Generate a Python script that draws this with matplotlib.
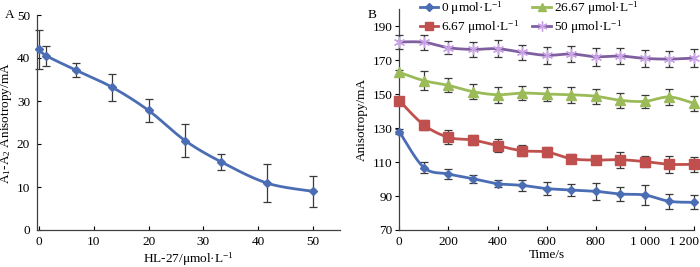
import numpy as np
import matplotlib
matplotlib.use("Agg")
import matplotlib.pyplot as plt
from matplotlib.lines import Line2D
from matplotlib.transforms import ScaledTranslation

plt.rcParams['font.family'] = ['Liberation Serif', 'DejaVu Serif']
plt.rcParams['mathtext.fontset'] = 'custom'
plt.rcParams['mathtext.rm'] = 'Liberation Serif'
plt.rcParams['mathtext.it'] = 'Liberation Serif:italic'
plt.rcParams['font.size'] = 9.5

FS = 9.5

# ---- Panel A data ----
conc_a = [0, 1.33, 6.67, 13.33, 20, 26.67, 33.33, 41.67, 50]
aniso_diff = [42.0, 40.5, 37.2, 33.2, 27.8, 20.8, 15.8, 10.9, 9.0]
aniso_diff_err = [4.6, 2.4, 1.7, 3.1, 2.6, 3.8, 1.9, 4.4, 3.6]

# ---- Panel B data ----
time_s = [0, 100, 200, 300, 400, 500, 600, 700, 800, 900, 1000, 1100, 1200]
time_ticks = [0, 200, 400, 600, 800, 1000, 1200]
time_ticklabels = ['0', '200', '400', '600', '800', '1 000', '1 200']
labels_b = [r'0 μmol·L$^{-1}$', r'6.67 μmol·L$^{-1}$',
            r'26.67 μmol·L$^{-1}$', r'50 μmol·L$^{-1}$']
c0 = [127.9, 106.8, 103.0, 100.2, 97.3, 96.3, 94.4, 93.6, 92.8, 91.2, 90.6, 86.9, 86.3]
c0_err = [1.5, 3.0, 3.1, 2.4, 2.2, 3.3, 3.8, 3.6, 5.1, 4.3, 6.1, 4.3, 4.1]
c667 = [146.2, 131.9, 124.6, 123.0, 119.7, 116.7, 116.0, 112.0, 111.2, 111.4, 110.3, 108.7, 108.7]
c667_err = [1.5, 2.7, 4.1, 3.2, 3.8, 3.2, 2.9, 2.7, 1.5, 4.6, 3.2, 5.1, 4.5]
c2667 = [162.9, 158.0, 155.2, 151.5, 149.7, 150.7, 150.1, 149.7, 148.8, 146.4, 145.8, 148.4, 144.6]
c2667_err = [1.5, 5.4, 4.1, 4.6, 4.7, 4.3, 4.3, 4.6, 4.3, 4.6, 3.9, 4.5, 4.6]
c50 = [180.8, 180.6, 177.4, 176.4, 176.8, 174.7, 172.9, 173.7, 172.1, 172.5, 171.1, 170.7, 171.3]
c50_err = [4.0, 4.3, 3.8, 4.4, 5.1, 4.4, 4.9, 4.9, 5.2, 4.9, 5.1, 4.7, 5.3]


def smooth(x, y, n=25):
    pts = np.column_stack([np.asarray(x, float), np.asarray(y, float)])
    out = []
    m = len(pts)
    t = np.linspace(0, 1, n)[:, None]
    for i in range(m - 1):
        p0 = pts[i - 1] if i > 0 else pts[i]
        p1 = pts[i]
        p2 = pts[i + 1]
        p3 = pts[i + 2] if i + 2 < m else pts[i + 1]
        b1 = p1 + (p2 - p0) / 6.0
        b2 = p2 - (p3 - p1) / 6.0
        seg = ((1 - t) ** 3) * p1 + 3 * ((1 - t) ** 2) * t * b1 + 3 * (1 - t) * t ** 2 * b2 + t ** 3 * p2
        out.append(seg if i == 0 else seg[1:])
    s = np.vstack(out)
    return s[:, 0], s[:, 1]


fig = plt.figure(figsize=(7.0, 2.67), dpi=100)
W, H = 700, 267

def ax_rect(l, r, t, b):
    return [l / W, (H - b) / H, (r - l) / W, (b - t) / H]

errc = '#3a3a3a'

# ---- Panel A ----
axA = fig.add_axes(ax_rect(37, 340, 15, 230))
xs, ys = smooth(conc_a, aniso_diff)
axA.errorbar(conc_a, aniso_diff, yerr=aniso_diff_err, fmt='none', ecolor=errc,
             elinewidth=0.9, capsize=3, capthick=0.9, zorder=2, clip_on=False)
axA.plot(xs, ys, color='#4a6db4', lw=2.0, zorder=3, clip_on=False)
axA.plot(conc_a, aniso_diff, ls='none', marker='D', ms=4, color='#4a6db4', zorder=4, clip_on=False)
axA.set_xlim(-0.4, 55)
axA.set_ylim(0, 50)
axA.set_xticks([0, 10, 20, 30, 40, 50])
axA.set_yticks([0, 10, 20, 30, 40, 50])
axA.tick_params(axis='x', direction='in', length=3, pad=4, labelsize=FS)
axA.tick_params(axis='y', direction='in', length=3, pad=5, labelsize=FS)
for s in ['top', 'right']:
    axA.spines[s].set_visible(False)
for s in ['left', 'bottom']:
    axA.spines[s].set_color('#404040')
    axA.spines[s].set_linewidth(0.9)
axA.set_xlabel(r'HL-27/μmol·L$^{-1}$', fontsize=FS, labelpad=2)
axA.set_ylabel(r'A$_1$-A$_2$ Anisotropy/mA', fontsize=FS, labelpad=2)
fig.text(5 / W, 1 - 15 / H, 'A', fontsize=FS, va='center', ha='left')

# ---- Panel B ----
axB = fig.add_axes(ax_rect(399.3, 694, 9.35, 230))
series = [
    (c0, c0_err, '#4a6db4', '#4a6db4', 'D', 4.5),
    (c667, c667_err, '#c0504d', '#c0504d', 's', 6.5),
    (c2667, c2667_err, '#9bbb59', '#9bbb59', '^', 6.5),
    (c50, c50_err, '#7f5fa0', '#c9a3e6', (6, 2, 0), 8),
]
handles = []
for (yv, ye, lc, mc, mk, ms), lab in zip(series, labels_b):
    axB.errorbar(time_s, yv, yerr=ye, fmt='none', ecolor=errc, elinewidth=0.9,
                 capsize=3, capthick=0.9, zorder=2, clip_on=False)
    sx, sy = smooth(time_s, yv)
    axB.plot(sx, sy, color=lc, lw=2.0, zorder=3, clip_on=False)
    axB.plot(time_s, yv, ls='none', marker=mk, ms=ms, color=mc, mec=mc, mew=1.0,
             zorder=4, clip_on=False)
    handles.append(Line2D([], [], color=lc, lw=2.0, marker=mk, ms=ms * 0.9, mfc=mc, mec=mc, mew=1.0))
axB.set_xlim(0, 1200)
axB.set_ylim(70, 200)
axB.set_xticks(time_ticks)
axB.set_xticklabels(time_ticklabels)
axB.set_yticks([70, 90, 110, 130, 150, 170, 190])
axB.tick_params(axis='x', direction='in', length=3, pad=4, labelsize=FS)
axB.tick_params(axis='y', direction='out', length=3, pad=2, labelsize=FS)
last = axB.get_xticklabels()[-1]
last.set_ha('right')
last.set_transform(last.get_transform() + ScaledTranslation(5 / 100, 0, fig.dpi_scale_trans))
for s in ['top', 'right']:
    axB.spines[s].set_visible(False)
for s in ['left', 'bottom']:
    axB.spines[s].set_color('#404040')
    axB.spines[s].set_linewidth(0.9)
axB.set_xlabel('Time/s', fontsize=FS, labelpad=1)
axB.set_ylabel('Anisotropy/mA', fontsize=FS, labelpad=3)
fig.text(368 / W, 1 - 15 / H, 'B', fontsize=FS, va='center', ha='left')

leg = axB.legend(handles, labels_b, ncol=2, loc='upper left', frameon=False,
                 bbox_to_anchor=((420 - 399.3) / (694 - 399.3), 1.045),
                 handlelength=1.4, handletextpad=0.2, columnspacing=1.0,
                 labelspacing=0.12, fontsize=FS, borderaxespad=0, borderpad=0)

fig.savefig('out.png', dpi=100)
